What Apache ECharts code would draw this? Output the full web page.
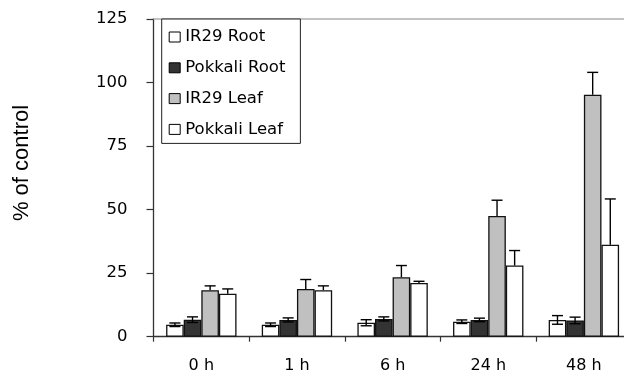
<!DOCTYPE html>
<html>
<head>
<meta charset="utf-8">
<script src="https://cdn.jsdelivr.net/npm/echarts@6/dist/echarts.min.js"></script>
<style>
  html, body { margin: 0; padding: 0; background: #fff; }
  #chart { width: 624px; height: 371px; }
</style>
</head>
<body>
<div id="chart"></div>
<script>
// Time points after treatment
const timePoints = ['0 h', '1 h', '6 h', '24 h', '48 h'];

// Mean values (% of control) per series
const ir29Root     = [4.7, 4.7, 5.5, 5.9, 6.6];
const pokkaliRoot  = [6.7, 6.6, 7.0, 6.6, 6.4];
const ir29Leaf     = [18.3, 18.8, 23.4, 47.5, 95.2];
const pokkaliLeaf  = [16.9, 18.3, 21.1, 28.0, 36.2];

// Standard errors per series
const ir29RootErr    = [0.7, 0.7, 1.2, 0.7, 1.7];
const pokkaliRootErr = [1.1, 0.8, 0.8, 0.7, 1.3];
const ir29LeafErr    = [1.7, 3.7, 4.6, 6.2, 8.8];
const pokkaliLeafErr = [1.9, 1.7, 0.7, 5.9, 18.0];

// Y axis ticks
const yTicks = [0, 25, 50, 75, 100, 125];

const seriesNames = ['IR29 Root', 'Pokkali Root', 'IR29 Leaf', 'Pokkali Leaf'];
const seriesValues = [ir29Root, pokkaliRoot, ir29Leaf, pokkaliLeaf];
const seriesErrors = [ir29RootErr, pokkaliRootErr, ir29LeafErr, pokkaliLeafErr];
const seriesFills = ['#ffffff', '#333333', '#c0c0c0', '#ffffff'];
// Root series show whiskers both ways, leaf series only upward
const bothWays = [true, true, false, false];

const BAR_W = 17.6;
const CAP = 5.5;
const tickFont = 'DejaVu Sans';

const chart = echarts.init(document.getElementById('chart'), null, { renderer: 'canvas' });

const barSeries = seriesNames.map((name, k) => ({
  type: 'bar',
  name: name,
  data: seriesValues[k],
  barWidth: BAR_W,
  barGap: '0%',
  itemStyle: { color: seriesFills[k], borderColor: '#111', borderWidth: 1.3 },
  emphasis: { disabled: true },
  z: 2
}));

const errSeries = seriesNames.map((name, k) => ({
  type: 'custom',
  data: seriesValues[k].map((v, i) => [i, v, seriesErrors[k][i]]),
  z: 5,
  silent: true,
  renderItem: function (params, api) {
    const c = api.value(0), v = api.value(1), e = api.value(2);
    const top = api.coord([c, v + e]);
    const mid = api.coord([c, v]);
    const bot = api.coord([c, v - e]);
    const x = mid[0] + (k - 1.5) * BAR_W;
    const style = { stroke: '#000', lineWidth: 1.4 };
    const lowY = bothWays[k] ? bot[1] : mid[1];
    const children = [
      { type: 'line', shape: { x1: x, y1: lowY, x2: x, y2: top[1] }, style },
      { type: 'line', shape: { x1: x - CAP, y1: top[1], x2: x + CAP, y2: top[1] }, style }
    ];
    if (bothWays[k]) {
      children.push({ type: 'line', shape: { x1: x - CAP, y1: bot[1], x2: x + CAP, y2: bot[1] }, style });
    }
    return { type: 'group', children };
  }
}));

chart.setOption({
  animation: false,
  backgroundColor: '#fff',
  grid: { left: 153.5, top: 19, right: -7.7, bottom: 34.3, containLabel: false, outerBoundsMode: 'none' },
  legend: {
    data: seriesNames,
    orient: 'vertical',
    left: 161.7,
    top: 19,
    padding: [8, 15, 4, 7],
    itemGap: 10.8,
    itemWidth: 11,
    itemHeight: 10,
    icon: 'rect',
    backgroundColor: '#fff',
    borderColor: '#222',
    borderWidth: 1,
    itemStyle: { borderColor: '#000', borderWidth: 1 },
    textStyle: { fontFamily: tickFont, fontSize: 16.5, color: '#000', lineHeight: 20 },
    selectedMode: false,
    z: 10
  },
  xAxis: [{
    type: 'category',
    data: timePoints,
    axisLine: { lineStyle: { color: '#333', width: 1.3 } },
    axisTick: { show: true, length: 5, lineStyle: { color: '#333', width: 1.2 } },
    axisLabel: { fontFamily: tickFont, fontSize: 16, color: '#000', margin: 21 },
    splitLine: { show: false }
  }, {
    type: 'category',
    data: timePoints,
    position: 'top',
    axisLine: { lineStyle: { color: '#b0b0b0', width: 1.5 } },
    axisTick: { show: false },
    axisLabel: { show: false }
  }],
  yAxis: {
    type: 'value',
    min: yTicks[0],
    max: yTicks[yTicks.length - 1],
    interval: yTicks[1] - yTicks[0],
    axisLine: { show: true, lineStyle: { color: '#333', width: 1.3 } },
    axisTick: { show: true, length: 7, lineStyle: { color: '#333', width: 1.2 } },
    axisLabel: { fontFamily: tickFont, fontSize: 16.5, color: '#000', margin: 26 },
    splitLine: { show: false }
  },
  graphic: [{
    type: 'text',
    x: 22,
    y: 163,
    rotation: Math.PI / 2,
    style: {
      text: '% of control',
      fontFamily: 'Liberation Sans',
      fontSize: 22,
      fill: '#000',
      align: 'center',
      verticalAlign: 'middle'
    }
  }],
  series: barSeries.concat(errSeries)
});
</script>
</body>
</html>
